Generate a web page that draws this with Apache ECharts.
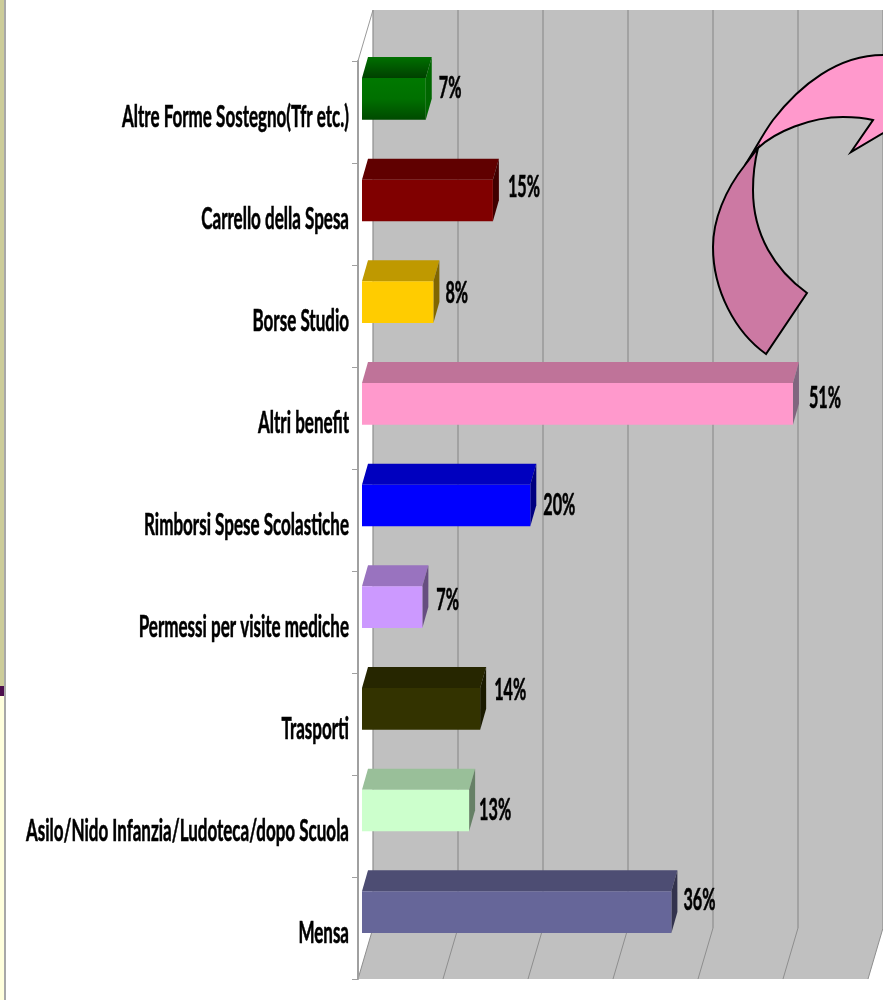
<!DOCTYPE html>
<html>
<head>
<meta charset="utf-8">
<style>html,body{margin:0;padding:0;background:#fff}#c{width:883px;height:1000px}</style>
<script src="https://cdn.jsdelivr.net/npm/echarts@6/dist/echarts.min.js"></script>
</head>
<body>
<div id="c"></div>
<script>
// ---- data (top to bottom) ----
var categories = ['Altre Forme Sostegno(Tfr etc.)','Carrello della Spesa','Borse Studio','Altri benefit','Rimborsi Spese Scolastiche','Permessi per visite mediche','Trasporti','Asilo/Nido Infanzia/Ludoteca/dopo Scuola','Mensa'];
var barLengths = [7.5,15.4,8.4,50.7,19.8,7.1,13.9,12.6,36.4];
var percentLabels = ['7%','15%','8%','51%','20%','7%','14%','13%','36%'];
var axisTicks = [0,10,20,30,40,50,60];
// ---- styles ----
var frontColors = ['#006f00','#800000','#ffcc00','#ff99cc','#0000ff','#cc99ff','#333300','#ccffcc','#666699'];
var topColors   = ['#005000','#600000','#bf9900','#bf7399','#0000bf','#9973bf','#262600','#99bf99','#4d4d73'];
var sideColors  = ['#006600','#400000','#806600','#80667f','#000080','#664d80','#1a1a00','#668066','#33334d'];
var labelNudgeX = [0,2,-1,3,0,1,1,-3,-1];
var labelNudgeY = [0,-3,2,5,10,4,-8,10,-1];
var FONT = 'Lato,"Liberation Sans",sans-serif';
var CAT_SCALE = 0.567, VALUE_SCALE = 0.54;
var DEPTH = [15,-51], BAR_DEPTH = [6,-21], BAR_START = 4;

var chart = echarts.init(document.getElementById('c'), null, {renderer:'canvas'});

function wallItem(p, api){
  var a = api.coord([0,0]), b = api.coord([60,0]);
  var top = p.coordSys.y, bottom = p.coordSys.y + p.coordSys.height;
  var fill = {fill:'#c0c0c0'};
  return {type:'group', children:[
    {type:'polygon', shape:{points:[[a[0]+DEPTH[0],top+DEPTH[1]],[b[0]+DEPTH[0],top+DEPTH[1]],[b[0]+DEPTH[0],bottom+DEPTH[1]],[a[0]+DEPTH[0],bottom+DEPTH[1]]]}, style:fill},
    {type:'polygon', shape:{points:[[a[0]+DEPTH[0],bottom+DEPTH[1]],[b[0]+DEPTH[0],bottom+DEPTH[1]],[b[0],bottom],[a[0],bottom]]}, style:fill},
    {type:'line', shape:{x1:a[0],y1:top,x2:a[0]+DEPTH[0],y2:top+DEPTH[1]}, style:{stroke:'#9a9a9a',lineWidth:1}}
  ]};
}
function gridItem(p, api){
  var x = api.coord([api.value(0),0])[0];
  var top = p.coordSys.y, bottom = p.coordSys.y + p.coordSys.height;
  return {type:'group', children:[
    {type:'line', shape:{x1:x+DEPTH[0],y1:top+DEPTH[1],x2:x+DEPTH[0],y2:bottom+DEPTH[1]}, style:{stroke:'#8e8e8e',lineWidth:1.2}},
    {type:'line', shape:{x1:x,y1:bottom,x2:x+DEPTH[0],y2:bottom+DEPTH[1]}, style:{stroke:'#8e8e8e',lineWidth:1}}
  ]};
}
function categoryLabelItem(p, api){
  var c = api.coord([0,p.dataIndex]);
  return {type:'text', x:c[0]-9, y:c[1]+5, scaleX:CAT_SCALE,
    style:{text:categories[p.dataIndex], font:'bold 30px '+FONT, fill:'#000', stroke:'#000', lineWidth:0.6, textAlign:'right', textVerticalAlign:'middle'}};
}
function barItem(p, api){
  var i = p.dataIndex;
  var v = api.value(0);
  var c0 = api.coord([0,i]), c1 = api.coord([v,i]);
  var h = api.size([0,1])[1] * 0.41;
  var x0 = c0[0]+BAR_START, x1 = c1[0]+BAR_START, yt = c0[1]-h/2, yb = c0[1]+h/2;
  var dx = BAR_DEPTH[0], dy = BAR_DEPTH[1];
  var front = frontColors[i], topC = topColors[i], side = sideColors[i];
  if (i === 0) {
    front = new echarts.graphic.LinearGradient(0,0,0,1,[{offset:0,color:'#007800'},{offset:0.5,color:'#007000'},{offset:1,color:'#004a00'}]);
    topC = new echarts.graphic.LinearGradient(0,0,0,1,[{offset:0,color:'#007000'},{offset:1,color:'#004000'}]);
  }
  return {type:'group', children:[
    {type:'polygon', shape:{points:[[x0,yt],[x1,yt],[x1+dx,yt+dy],[x0+dx,yt+dy]]}, style:{fill:topC}},
    {type:'polygon', shape:{points:[[x1,yt],[x1+dx,yt+dy],[x1+dx,yb+dy],[x1,yb]]}, style:{fill:side}},
    {type:'rect', shape:{x:x0,y:yt,width:x1-x0,height:yb-yt}, style:{fill:front}},
    {type:'text', x:x1+dx+7+labelNudgeX[i], y:(yt+dy+yb)/2+labelNudgeY[i], scaleX:VALUE_SCALE,
      style:{text:percentLabels[i], font:'bold 30px '+FONT, fill:'#000', stroke:'#000', lineWidth:0.6, textAlign:'left', textVerticalAlign:'middle'}}
  ]};
}
function arrowItem(){
  return {type:'group', children:[
    {type:'path', shape:{pathData:'M900 55 L883 55 C838 55 800 85 773 120 C762 135 755 150 745 165 L758 148 C775 132 810 117 843 117 C855 117 865 118 873 120 L851 152 L900 123 Z'}, style:{fill:'#ff99cc',stroke:'#000',lineWidth:2}},
    {type:'path', shape:{pathData:'M745 165 C725 190 713 220 713 247 C713 290 735 332 766 354 L807 293 C775 270 753 235 753 190 C753 175 755 160 758 148 Z'}, style:{fill:'#cc79a3',stroke:'#000',lineWidth:2}}
  ]};
}

chart.setOption({
  animation:false,
  backgroundColor:'#fff',
  grid:[
    {left:358,top:61,width:510,height:918,containLabel:false,outerBoundsMode:'none'},
    {left:358,top:48,width:510,height:915,containLabel:false,outerBoundsMode:'none'}
  ],
  xAxis:[
    {gridIndex:0,type:'value',min:0,max:60,interval:10,show:false},
    {gridIndex:1,type:'value',min:0,max:60,interval:10,show:false}
  ],
  yAxis:[
    {gridIndex:0,type:'category',inverse:true,data:categories,
      axisLine:{show:true,lineStyle:{color:'#a0a0a0',width:2}},
      axisTick:{show:true,alignWithLabel:false,length:6,lineStyle:{color:'#a0a0a0',width:1}},
      axisLabel:{show:false},
      splitLine:{show:false},z:5},
    {gridIndex:1,type:'category',inverse:true,data:categories,show:false}
  ],
  series:[
    {type:'custom',name:'wall',xAxisIndex:0,yAxisIndex:0,data:[[0,0]],renderItem:wallItem,z:1,clip:false,silent:true},
    {type:'custom',name:'grid',xAxisIndex:0,yAxisIndex:0,data:axisTicks.map(function(t){return [t,0];}),encode:{x:0,y:1},renderItem:gridItem,z:2,clip:false,silent:true},
    {type:'custom',name:'categoryLabels',xAxisIndex:0,yAxisIndex:0,data:categories.map(function(c,i){return [0,i];}),encode:{x:0,y:1},renderItem:categoryLabelItem,z:6,clip:false,silent:true},
    {type:'custom',name:'bars',xAxisIndex:1,yAxisIndex:1,data:barLengths.map(function(v,i){return [v,i];}),encode:{x:0,y:1},renderItem:barItem,z:3,clip:false,silent:true},
    {type:'custom',name:'arrow',xAxisIndex:0,yAxisIndex:0,data:[[0,0]],renderItem:arrowItem,z:4,clip:false,silent:true}
  ],
  graphic:[
    {type:'rect',shape:{x:0,y:0,width:4,height:686},style:{fill:'#cccc99'},z:10},
    {type:'rect',shape:{x:0,y:686,width:4,height:10},style:{fill:'#4d0f4d'},z:10},
    {type:'rect',shape:{x:0,y:696,width:4,height:304},style:{fill:'#ffffdd'},z:10},
    {type:'rect',shape:{x:4,y:0,width:2,height:1000},style:{fill:'#a8a8a8'},z:10}
  ]
});
</script>
</body>
</html>
